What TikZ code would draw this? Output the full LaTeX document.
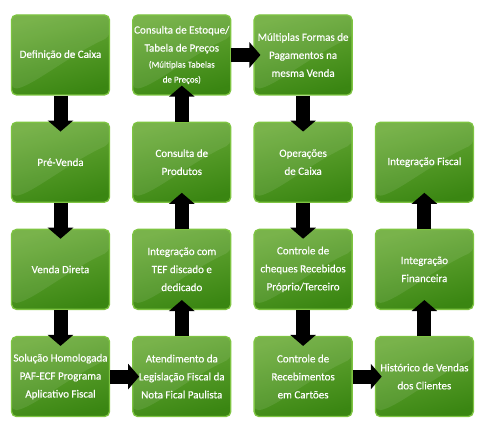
\documentclass[tikz,border=0pt]{standalone}
\usepackage{fontspec}
\setmainfont{Carlito}
\newfontfamily\boxfont{Carlito}[FakeBold=0.35]
\usetikzlibrary{arrows.meta,
                positioning}
\definecolor{boxtop}{RGB}{108,172,58}
\definecolor{boxbot}{RGB}{58,134,18}
\definecolor{boxrim}{RGB}{126,196,66}

\begin{document}
\begin{tikzpicture}[x=1pt,y=1pt,
    etapa/.style={shade, top color=boxtop, bottom color=boxbot, shading angle=15,
                  draw=boxrim, line width=1.3pt, rounded corners=5pt,
                  minimum width=98pt, minimum height=80pt, inner sep=1pt,
                  align=center, text=white,
                  font=\boxfont\fontsize{11}{18}\selectfont,
                  path picture={\fill[white, opacity=0.09]
                      (path picture bounding box.north west) -- (path picture bounding box.north east)
                      -- ([yshift=-22pt]path picture bounding box.north east)
                      .. controls ([xshift=-40pt,yshift=-40pt]path picture bounding box.north east)
                      and ([xshift=20pt,yshift=8pt]path picture bounding box.south west)
                      .. ([yshift=6pt]path picture bounding box.south west) -- cycle;}},
    fluxo/.style={line width=14pt, -{Triangle[width=25pt,length=11pt]},
                  shorten >=-10pt},
    fluxoh/.style={fluxo, shorten >=-7pt}]
    % Grid of the steps
    \def\colsep{121.3}
    \def\rowsep{107.2}
    \def\xa{60.5}
    \def\ya{372}

    \useasboundingbox (0,0) rectangle (482,427);

    % First column (top to bottom)
    \node[etapa] (def) at (\xa, \ya) {Definição de Caixa};
    \node[etapa] (prevenda) at (\xa, \ya-\rowsep) {Pré-Venda};
    \node[etapa] (venda) at (\xa, \ya-2*\rowsep) {Venda Direta};
    \node[etapa] (solucao) at (\xa, \ya-3*\rowsep) {Solução Homologada\\PAF-ECF Programa\\Aplicativo Fiscal};

    % Second column (bottom to top)
    \node[etapa] (atend) at (\xa+\colsep, \ya-3*\rowsep) {Atendimento da\\Legislação Fiscal da\\Nota Fical Paulista};
    \node[etapa] (tef) at (\xa+\colsep, \ya-2*\rowsep) {Integração com\\TEF discado e\\dedicado};
    \node[etapa] (produtos) at (\xa+\colsep, \ya-\rowsep) {Consulta de\\Produtos};
    \node[etapa] (estoque) at (\xa+\colsep, \ya) {Consulta de Estoque/\\Tabela de Preços\\[-2pt]
        {\fontsize{9}{18}\selectfont (Múltiplas Tabelas}\\[-3pt]
        {\fontsize{9}{18}\selectfont de Preços)}};

    % Third column (top to bottom)
    \node[etapa] (pagto) at (\xa+2*\colsep, \ya) {Múltiplas Formas de\\Pagamentos na\\mesma Venda};
    \node[etapa] (operacoes) at (\xa+2*\colsep, \ya-\rowsep) {Operações\\de Caixa};
    \node[etapa] (cheques) at (\xa+2*\colsep, \ya-2*\rowsep) {Controle de\\cheques Recebidos\\Próprio/Terceiro};
    \node[etapa] (cartoes) at (\xa+2*\colsep, \ya-3*\rowsep) {Controle de\\Recebimentos\\em Cartões};

    % Fourth column (bottom to top)
    \node[etapa] (historico) at (\xa+3*\colsep, \ya-3*\rowsep) {Histórico de Vendas\\dos Clientes};
    \node[etapa] (financeira) at (\xa+3*\colsep, \ya-2*\rowsep) {Integração\\Financeira};
    \node[etapa] (fiscal) at (\xa+3*\colsep, \ya-\rowsep) {Integração Fiscal};

    % Flow arrows
    \draw[fluxo] (def) -- (prevenda);
    \draw[fluxo] (prevenda) -- (venda);
    \draw[fluxo] (venda) -- (solucao);
    \draw[fluxoh] (solucao) -- (atend);
    \draw[fluxo] (atend) -- (tef);
    \draw[fluxo] (tef) -- (produtos);
    \draw[fluxo] (produtos) -- (estoque);
    \draw[fluxoh] (estoque) -- (pagto);
    \draw[fluxo] (pagto) -- (operacoes);
    \draw[fluxo] (operacoes) -- (cheques);
    \draw[fluxo] (cheques) -- (cartoes);
    \draw[fluxoh] (cartoes) -- (historico);
    \draw[fluxo] (historico) -- (financeira);
    \draw[fluxo] (financeira) -- (fiscal);
\end{tikzpicture}
\end{document}
